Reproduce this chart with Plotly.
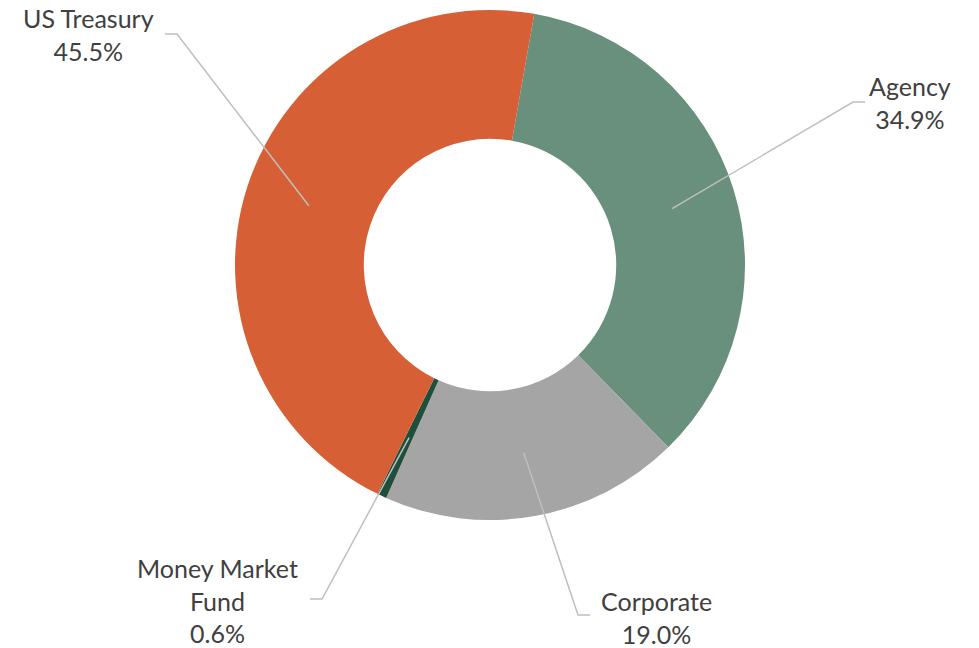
import math
import plotly.graph_objects as go

categories = ["Agency", "Corporate", "Money Market Fund", "US Treasury"]
values = [34.9, 19.0, 0.6, 45.5]
colors = ["#698F7D", "#A5A5A5", "#1F4E3A", "#D65F36"]
label_text = ["Agency<br>34.9%", "Corporate<br>19.0%", "Money Market<br>Fund<br>0.6%", "US Treasury<br>45.5%"]

W, H = 979, 648
CX, CY, R, HOLE = 490, 265, 255, 0.495
ROT = 10

# label centers and elbow points (pixels)
label_pos = [(910, 102), (656, 617), (217, 600), (88, 34)]
elbows = [((853, 102), (865, 102)), ((578, 615), (590, 615)),
          ((322, 599), (310, 599)), ((177, 34), (165, 34))]

def px(x, y):
    return x / W, 1 - y / H

fig = go.Figure(go.Pie(
    labels=categories, values=values, hole=HOLE, sort=False,
    direction="clockwise", rotation=ROT, textinfo="none",
    marker=dict(colors=colors, line=dict(color="white", width=0)),
    domain=dict(x=[(CX - R) / W, (CX + R) / W], y=[1 - (CY + R) / H, 1 - (CY - R) / H]),
    showlegend=False, hoverinfo="label+percent",
))

total = sum(values)
cum = 0
shapes = []
annotations = []
rmid = R * (1 + HOLE) / 2
for i, v in enumerate(values):
    mid = ROT + (cum + v / 2) / total * 360
    cum += v
    a = math.radians(mid)
    sx, sy = CX + rmid * math.sin(a), CY - rmid * math.cos(a)
    (ex, ey), (hx, hy) = elbows[i]
    p0, p1, p2 = px(sx, sy), px(ex, ey), px(hx, hy)
    shapes.append(dict(type="path", xref="paper", yref="paper",
                       path=f"M {p0[0]} {p0[1]} L {p1[0]} {p1[1]} L {p2[0]} {p2[1]}",
                       line=dict(color="#BFBFBF", width=1.5)))
    lx, ly = px(*label_pos[i])
    annotations.append(dict(x=lx, y=ly, xref="paper", yref="paper", text=label_text[i],
                            showarrow=False, xanchor="center", yanchor="middle",
                            font=dict(family="Lato, Open Sans, sans-serif", size=25, color="#404040")))

fig.update_layout(width=W, height=H, margin=dict(l=0, r=0, t=0, b=0),
                  paper_bgcolor="white", plot_bgcolor="white",
                  shapes=shapes, annotations=annotations)
fig.write_html("out.html", config={"displayModeBar": False})

with open("out.html", "r", encoding="utf-8") as f:
    html = f.read()
html = html.replace("<head>", "<head><style>html,body{margin:0;padding:0;}</style>", 1)
with open("out.html", "w", encoding="utf-8") as f:
    f.write(html)
